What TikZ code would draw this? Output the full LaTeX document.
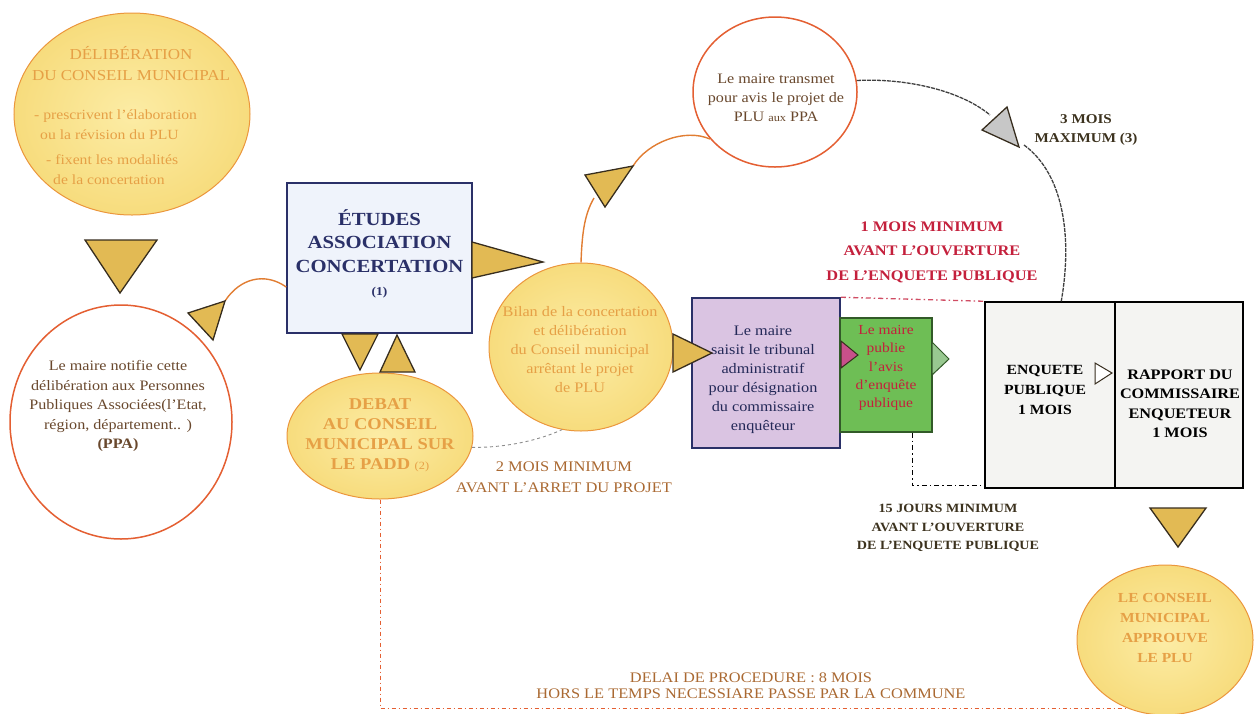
\documentclass[tikz,border=0pt]{standalone}
\usepackage{fontspec}
\setmainfont{Liberation Serif}[FakeStretch=1.12]
\usetikzlibrary{shapes.geometric,calc}
\definecolor{yfill}{RGB}{247,220,125}
\definecolor{yin}{RGB}{252,236,165}
\definecolor{ytext}{RGB}{230,160,70}
\definecolor{ybord}{RGB}{235,150,60}
\definecolor{rbord}{RGB}{228,95,50}
\definecolor{brownt}{RGB}{105,72,45}
\definecolor{navy}{RGB}{42,48,104}
\definecolor{trifill}{RGB}{226,186,84}
\definecolor{tridraw}{RGB}{55,45,30}
\definecolor{lilac}{RGB}{218,196,226}
\definecolor{grn}{RGB}{110,190,85}
\definecolor{grnd}{RGB}{50,90,40}
\definecolor{crim}{RGB}{196,32,60}
\definecolor{orl}{RGB}{225,125,50}
\definecolor{gtext}{RGB}{60,50,30}
\definecolor{otext}{RGB}{170,105,50}
\begin{document}
\begin{tikzpicture}[x=1pt,y=-1pt,
  yell/.style={ellipse, draw=ybord, line width=1pt, inner color=yin, outer color=yfill, inner sep=0pt},
  whell/.style={ellipse, draw=rbord, line width=1.5pt, fill=white, inner sep=0pt},
  tri/.style={fill=trifill, draw=tridraw, line width=1.3pt, line join=miter},
  txt/.style={align=center, inner sep=0pt},
  sq/.style={rectangle, inner sep=0pt, line width=1.5pt},
  conn/.style={draw=orl, line width=1.4pt},
]
\useasboundingbox (0,0) rectangle (1255,713);

% ---------- shapes ----------
\node[yell, minimum width=236pt, minimum height=202pt] (delib) at (132,114) {};
\node[whell, minimum width=222pt, minimum height=234pt] (notif) at (121,422) {};
\node[sq, draw=navy, fill={rgb,255:red,239;green,243;blue,251}, minimum width=185pt, minimum height=150pt] (etudes) at (379.5,258) {};
\node[yell, minimum width=186pt, minimum height=126pt] (debat) at (380,436) {};
\node[yell, minimum width=184pt, minimum height=168pt] (bilan) at (581,347) {};
\node[whell, minimum width=164pt, minimum height=150pt] (transm) at (775,92) {};
\node[sq, draw=navy, fill=lilac, minimum width=148pt, minimum height=150pt] (purple) at (766,373) {};
\node[sq, draw=grnd, line width=1.2pt, fill=grn, minimum width=92pt, minimum height=114pt] (green) at (886,375) {};
\node[sq, draw=black, fill={rgb,255:red,244;green,244;blue,242}, minimum width=130pt, minimum height=186pt] (enq) at (1050,395) {};
\node[sq, draw=black, fill={rgb,255:red,244;green,244;blue,242}, minimum width=128pt, minimum height=186pt] (rap) at (1179,395) {};
\node[yell, minimum width=176pt, minimum height=150pt] (appr) at (1165,640) {};

% ---------- texts ----------
\node[txt, text=ytext, font=\fontsize{15.2}{21}\selectfont] (delibT) at (131,64) {DÉLIBÉRATION\\DU CONSEIL MUNICIPAL};
\node[txt, align=left, anchor=west, text=ytext, font=\fontsize{14}{20}\selectfont] (delibB1) at (34,125) {- prescrivent l'élaboration\\\hspace*{6pt}ou la révision du PLU};
\node[txt, align=left, anchor=west, text=ytext, font=\fontsize{14}{20}\selectfont] (delibB2) at (46,170) {- fixent les modalités\\\hspace*{7pt}de la concertation};
\node[txt, text=brownt, font=\fontsize{14.4}{19.5}\selectfont] (notifT) at (118,406) {Le maire notifie cette\\délibération aux Personnes\\Publiques Associées(l'Etat,\\région, département.. )\\\textbf{(PPA)}};
\node[txt, text=navy, font=\bfseries\fontsize{18.5}{23.5}\selectfont] (etudesT) at (379.5,254) {ÉTUDES\\ASSOCIATION\\CONCERTATION\\{\fontsize{12}{14}\selectfont (1)}};
\node[txt, text=ytext, font=\bfseries\fontsize{16.5}{20}\selectfont] (debatT) at (380,435) {DEBAT\\AU CONSEIL\\MUNICIPAL SUR\\LE PADD {\mdseries\fontsize{11}{13}\selectfont (2)}};
\node[txt, text=ytext, font=\fontsize{14.5}{19}\selectfont] (bilanT) at (580,350) {Bilan de la concertation\\et délibération\\du Conseil municipal\\arrêtant le projet\\de PLU};
\node[txt, text=brownt, font=\fontsize{14.4}{19}\selectfont] (transmT) at (776,98) {Le maire transmet\\pour avis le projet de\\PLU {\fontsize{11}{13}\selectfont aux} PPA};
\node[txt, text=navy!85!black, font=\fontsize{14.5}{19}\selectfont] (purpleT) at (763,380) {Le maire\\saisit le tribunal\\administratif\\pour désignation\\du commissaire\\enquêteur};
\node[txt, text=crim, font=\fontsize{13.8}{18.3}\selectfont] (greenT) at (886,368) {Le maire\\publie\\l'avis\\d'enquête\\publique};
\node[txt, text=black, font=\bfseries\fontsize{14}{20}\selectfont] (enqT) at (1045,390) {ENQUETE\\PUBLIQUE\\1 MOIS};
\node[txt, text=black, font=\bfseries\fontsize{14.5}{19.5}\selectfont] (rapT) at (1180,404) {RAPPORT DU\\COMMISSAIRE\\ENQUETEUR\\1 MOIS};
\node[txt, text=ytext, font=\bfseries\fontsize{13.8}{20}\selectfont] (apprT) at (1165,628) {LE CONSEIL\\MUNICIPAL\\APPROUVE\\LE PLU};
\node[txt, text=gtext, font=\bfseries\fontsize{13.5}{18.5}\selectfont] (moisMax) at (1086,130) {3 MOIS\\MAXIMUM (3)};
\node[txt, text=crim, font=\bfseries\fontsize{14.6}{24.5}\selectfont] (unMois) at (932,252) {1 MOIS MINIMUM\\AVANT L'OUVERTURE\\DE L'ENQUETE PUBLIQUE};
\node[txt, text=gtext, font=\bfseries\fontsize{12.6}{18.5}\selectfont] (quinze) at (948,528) {15 JOURS MINIMUM\\AVANT L'OUVERTURE\\DE L'ENQUETE PUBLIQUE};
\node[txt, text=otext, font=\fontsize{14.7}{21}\selectfont] (deuxMois) at (564,477) {2 MOIS MINIMUM\\AVANT L'ARRET DU PROJET};
\node[txt, text=otext, font=\fontsize{14.6}{16}\selectfont] (delai) at (751,686) {DELAI DE PROCEDURE : 8 MOIS\\HORS LE TEMPS NECESSIARE PASSE PAR LA COMMUNE};

% ---------- triangle coordinates ----------
\coordinate (tA1) at (85,240); \coordinate (tA2) at (157,240); \coordinate (tA3) at (120,293);
\coordinate (tB1) at (188,313); \coordinate (tB2) at (225,301); \coordinate (tB3) at (213,340);
\coordinate (tC1) at (472,242); \coordinate (tC2) at (472,278); \coordinate (tC3) at (543,262);
\coordinate (tD1) at (342,334); \coordinate (tD2) at (378,334); \coordinate (tD3) at (360,370);
\coordinate (tE1) at (380,372); \coordinate (tE2) at (415,372); \coordinate (tE3) at (397,335);
\coordinate (tF1) at (585,175); \coordinate (tF2) at (633,166); \coordinate (tF3) at (605,207);
\coordinate (tG1) at (982,130); \coordinate (tG2) at (1007,107); \coordinate (tG3) at (1019,147);
\coordinate (tH1) at (673,334); \coordinate (tH2) at (673,372); \coordinate (tH3) at (712,353);
\coordinate (tI1) at (841,341); \coordinate (tI2) at (841,368); \coordinate (tI3) at (858,355);
\coordinate (tJ1) at (932,342); \coordinate (tJ2) at (932,375); \coordinate (tJ3) at (949,359);
\coordinate (tK1) at (1095,363); \coordinate (tK2) at (1095,384); \coordinate (tK3) at (1112,373);
\coordinate (tL1) at (1150,508); \coordinate (tL2) at (1206,508); \coordinate (tL3) at (1178,547);
\coordinate (fIn) at (594,198);
\coordinate (gIn) at (990,115);
\coordinate (gOut) at (1024,145);
\coordinate (endB) at (1125,708);

% ---------- connectors ----------
\draw[conn] ($(etudes.west)+(0,29)$) .. controls (265,272) and (240,278) .. (tB2);
\draw[conn] (bilan.north) .. controls (582,235) and (584,215) .. (fIn);
\draw[conn] (tF2) .. controls (648,142) and (685,128) .. (transm.216);
\draw[black!75, line width=1.3pt, dash pattern=on 4pt off 1pt] (transm.8) .. controls (905,78) and (960,90) .. (gIn);
\draw[black!75, line width=1.3pt, dash pattern=on 4pt off 1pt] (gOut) .. controls (1065,175) and (1072,240) .. ($(enq.north west)+(77,0)$);
\draw[black!45, line width=0.9pt, dashed] (debat.-7) .. controls (505,448) and (540,440) .. (bilan.257);
\draw[crim!80, line width=1.3pt, dash pattern=on 5pt off 3pt on 1.5pt off 3pt] (purple.north east) -- (enq.north west);
\draw[black, line width=1.3pt, dash pattern=on 5pt off 3pt on 1.5pt off 3pt] ($(green.south east)+(-20,0)$) |- ($(enq.south west)+(0,-3)$);
\draw[rbord, line width=1pt, dash pattern=on 4pt off 3pt on 1pt off 3pt] (debat.south) -- (380,708) -- (endB);

% ---------- triangles ----------
\filldraw[tri] (tA1) -- (tA2) -- (tA3) -- cycle;
\filldraw[tri] (tB1) -- (tB2) -- (tB3) -- cycle;
\filldraw[tri] (tC1) -- (tC2) -- (tC3) -- cycle;
\filldraw[tri] (tD1) -- (tD2) -- (tD3) -- cycle;
\filldraw[tri] (tE1) -- (tE2) -- (tE3) -- cycle;
\filldraw[tri] (tF1) -- (tF2) -- (tF3) -- cycle;
\filldraw[tri, fill=black!22] (tG1) -- (tG2) -- (tG3) -- cycle;
\filldraw[tri] (tH1) -- (tH2) -- (tH3) -- cycle;
\filldraw[tri, fill={rgb,255:red,200;green,80;blue,138}, line width=1pt] (tI1) -- (tI2) -- (tI3) -- cycle;
\filldraw[tri, fill={rgb,255:red,152;green,200;blue,144}, draw=grnd, line width=1pt] (tJ1) -- (tJ2) -- (tJ3) -- cycle;
\filldraw[tri, fill=white, line width=1pt] (tK1) -- (tK2) -- (tK3) -- cycle;
\filldraw[tri] (tL1) -- (tL2) -- (tL3) -- cycle;
\end{tikzpicture}
\end{document}
